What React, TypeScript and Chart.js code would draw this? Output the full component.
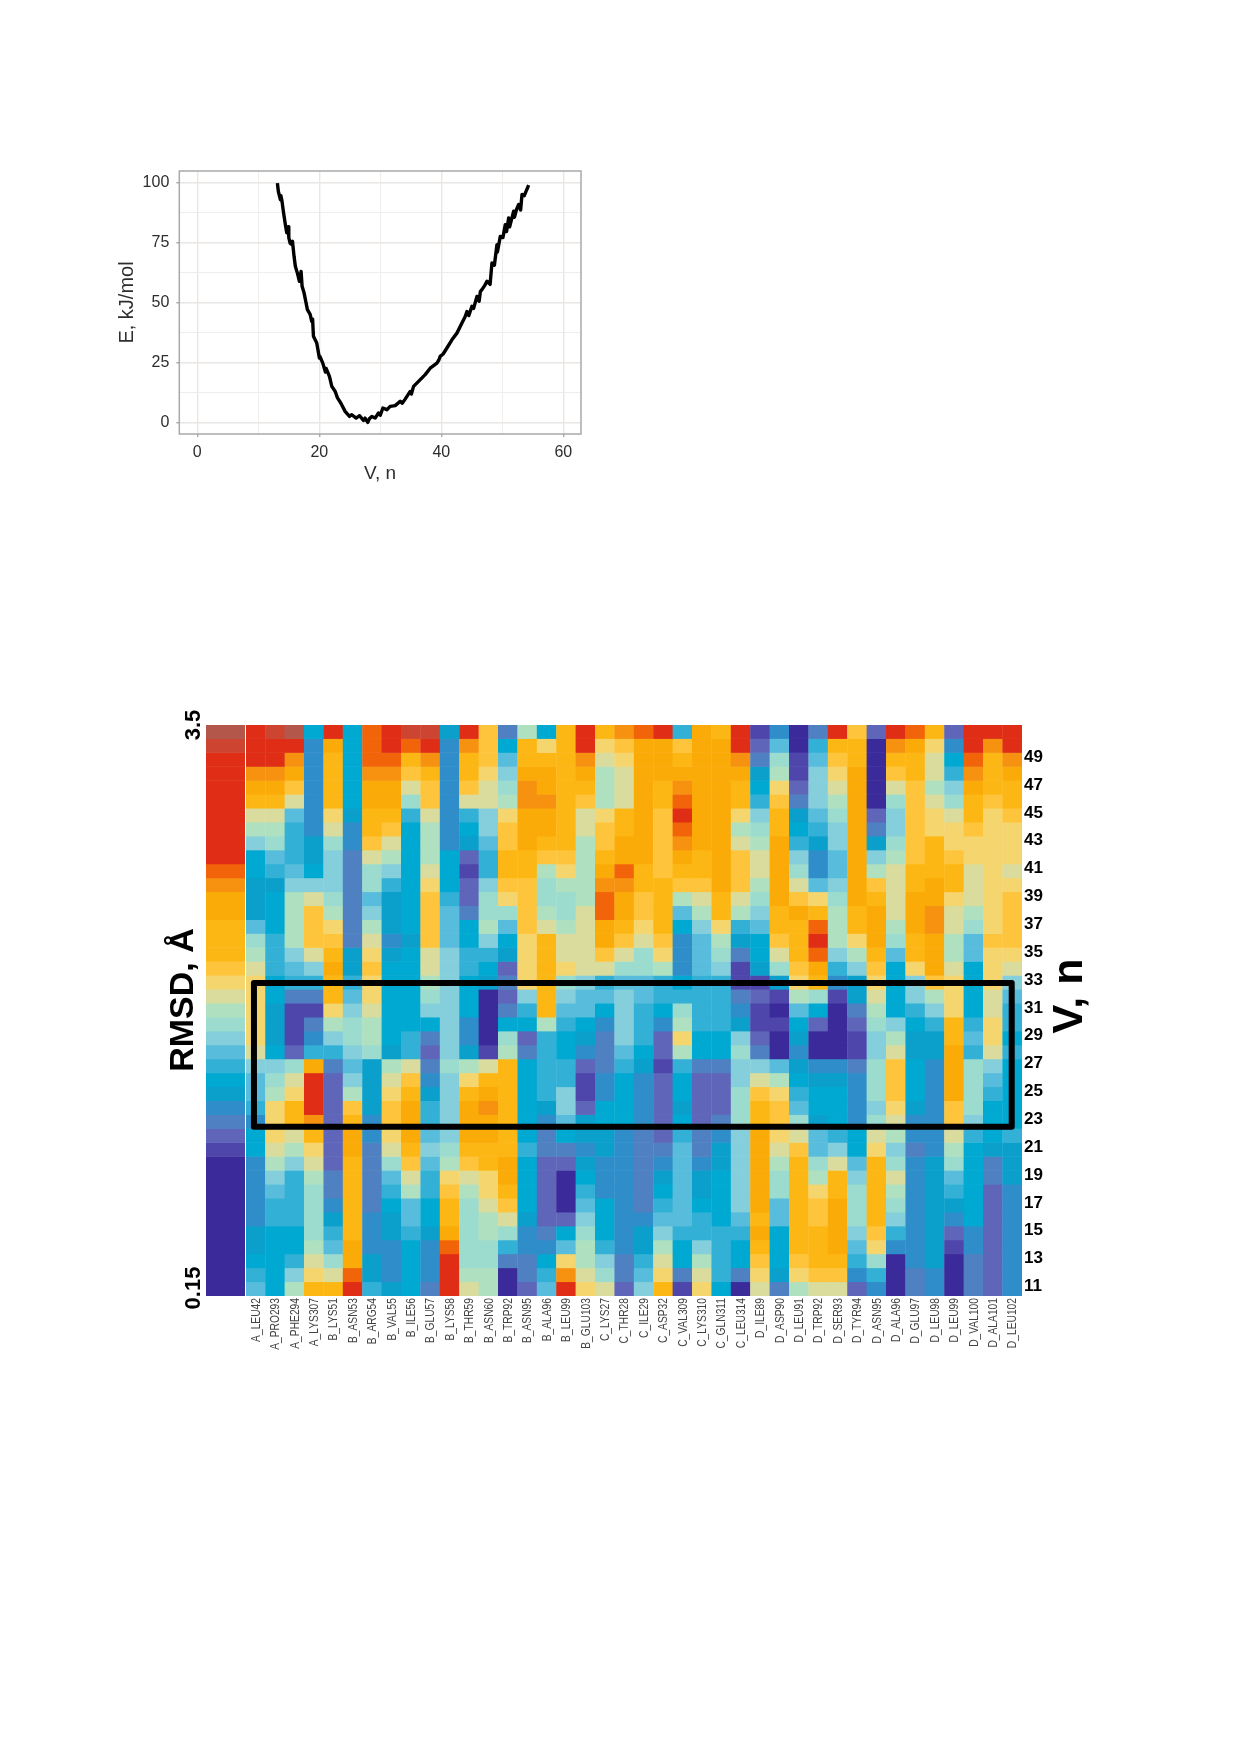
import React, { useEffect, useRef } from "react";
import { Chart, registerables } from "chart.js";

Chart.register(...registerables);

// ---------- Top panel: energy profile ----------
const energyV = [13.13,13.29,13.62,13.7,13.89,14.11,14.44,14.66,14.93,15.0,15.21,15.54,15.6,15.86,16.08,16.41,16.74,16.85,17.01,17.18,17.51,18.05,18.5,18.76,18.9,19.04,19.58,20.02,20.1,20.57,21.0,21.12,21.66,22.05,22.59,22.98,23.52,24.23,24.95,25.33,26.04,26.59,27.24,27.5,27.95,28.2,28.61,29.16,29.7,30.0,30.42,31.07,31.62,32.44,33.26,33.6,34.08,34.9,35.1,35.45,36.27,37.36,38.18,39.28,39.6,39.82,40.3,40.92,41.74,42.56,43.38,43.9,44.2,44.5,45.02,45.3,45.84,46.2,46.4,46.66,47.1,47.48,48.0,48.3,48.7,49.12,49.2,49.67,50.1,50.49,50.7,51.04,51.2,51.86,52.0,52.3,52.68,53.0,53.23,53.6,54.32];
const energyE = [99.7,96.2,92.8,94.5,92.1,87.9,82.4,79,81.5,77,74.7,74,75.5,69.2,65,62.2,58.8,60,62.9,56.7,53.9,47,45,42.1,43,35.9,33.1,26.8,27.5,24.7,21,22.5,19.2,15,13,10.2,8.1,4.6,2.5,3.2,1.8,2.8,0.8,1.8,0,1.5,2.5,1.8,3.9,3,6,5.3,6.7,7,8.8,8,9.7,12.9,11.8,15,17.1,19.9,22.6,24.7,26,27.5,28.5,31,34.4,37.2,41.4,44,46.2,44.5,48.4,47.5,52.5,50.5,54.5,55.3,57,58.8,57.5,66.4,65.5,74,71,77.5,77,82.4,79.5,85.2,81.5,88,85.5,88.5,90.8,88.5,95,94.5,98.9];

// ---------- Lower panel: RMSD heat map ----------
const residues = ["A_LEU42","A_PRO293","A_PHE294","A_LYS307","B_LYS51","B_ASN53","B_ARG54","B_VAL55","B_ILE56","B_GLU57","B_LYS58","B_THR59","B_ASN60","B_TRP92","B_ASN95","B_ALA96","B_LEU99","B_GLU103","C_LYS27","C_THR28","C_ILE29","C_ASP32","C_VAL309","C_LYS310","C_GLN311","C_LEU314","D_ILE89","D_ASP90","D_LEU91","D_TRP92","D_SER93","D_TYR94","D_ASN95","D_ALA96","D_GLU97","D_LEU98","D_LEU99","D_VAL100","D_ALA101","D_LEU102"];
const vRows = [51,50,49,48,47,46,45,44,43,42,41,40,39,38,37,36,35,34,33,32,31,30,29,28,27,26,25,24,23,22,21,20,19,18,17,16,15,14,13,12,11];
const vTicks = [11,13,15,17,19,21,23,25,27,29,31,33,35,37,39,41,43,45,47,49];

const colorBins = ["#3b2a9a","#4e46ab","#5f66b9","#4f80c1","#2f8ec9","#0b9fcc","#00a9d1","#33b0d6","#58bcdc","#84cfdb","#9cdccf","#afe0bf","#d9dc9c","#f5d56e","#fec53c","#fdb714","#fbab08","#f79211","#f26409","#e02d16","#cd4430","#b2574a"];

// RMSD colour-bin of every row (V = 51 ... 11) for each residue
const rmsdBar = [21,20,19,19,19,19,19,19,19,19,18,17,16,16,15,15,15,14,13,12,11,10,9,8,7,6,5,4,3,2,1,0,0,0,0,0,0,0,0,0,0];
const col00 = [19,19,19,17,16,15,12,11,9,6,6,5,5,5,8,10,11,12,13,13,13,13,13,12,9,8,8,7,4,6,6,4,4,4,4,4,5,5,6,7,8];
const col01 = [20,19,19,17,16,15,12,11,10,8,7,5,6,6,6,7,7,7,6,6,5,5,5,6,9,10,11,13,13,13,12,11,9,8,7,7,6,6,6,6,6];
const col02 = [21,19,17,16,14,12,8,7,7,7,8,9,11,11,11,11,9,8,7,3,1,1,1,2,10,12,13,15,15,12,11,9,7,7,7,7,6,6,7,9,11];
const col03 = [6,4,4,4,4,4,4,4,5,5,6,9,12,14,14,14,12,9,7,3,1,3,4,7,16,19,19,19,17,15,13,12,11,10,10,10,10,11,12,13,15];
const col04 = [19,16,15,15,15,15,13,12,10,9,9,9,10,11,13,14,15,16,15,15,13,11,9,7,3,2,2,2,2,2,2,2,3,3,4,5,7,8,10,12,15];
const col05 = [6,6,6,6,6,6,5,4,4,3,3,3,3,3,3,3,5,5,7,8,9,10,10,9,8,9,11,14,15,16,16,15,15,15,15,15,15,16,16,18,19];
const col06 = [18,18,18,17,16,16,15,15,14,12,10,10,8,9,11,12,13,14,13,13,12,11,11,10,5,5,5,5,4,4,3,3,3,3,3,4,4,4,5,5,7];
const col07 = [19,19,18,17,16,16,15,14,12,11,9,7,5,5,5,4,5,6,6,6,6,6,6,5,11,12,13,14,14,13,12,10,8,7,6,5,5,4,4,4,5];
const col08 = [20,18,15,14,12,10,7,6,6,6,6,6,6,6,6,5,6,6,6,6,6,6,7,7,12,14,15,16,16,16,15,14,12,11,8,8,7,6,6,6,6];
const col09 = [20,19,17,15,14,14,12,11,11,11,12,13,14,14,14,14,12,12,11,10,9,6,3,2,3,4,5,7,7,8,9,8,7,7,6,6,5,4,4,4,3];
const col10 = [5,4,4,4,4,4,4,4,4,6,6,6,7,8,8,8,9,9,9,9,9,9,9,9,10,9,9,9,9,9,10,11,13,14,15,15,16,18,19,19,19];
const col11 = [19,17,15,15,14,12,7,6,5,2,1,2,2,3,6,6,7,7,6,6,6,4,4,5,11,13,15,16,16,16,15,14,12,11,10,10,10,10,10,11,12];
const col12 = [14,14,14,13,12,12,9,9,8,7,7,9,10,10,11,9,7,6,5,0,0,0,0,1,12,15,16,17,16,16,15,15,13,13,12,11,11,10,10,11,11];
const col13 = [3,6,8,9,10,11,13,14,14,15,15,14,13,10,8,6,5,2,3,2,3,6,10,11,15,15,15,15,15,15,15,16,16,15,14,12,10,7,3,0,0];
const col14 = [11,15,15,16,17,17,16,16,16,15,15,14,14,14,14,13,13,13,13,9,7,6,2,3,6,6,6,6,6,6,7,6,6,6,6,5,4,4,3,3,2];
const col15 = [6,13,15,16,16,17,16,16,15,14,11,10,10,11,12,15,15,15,15,15,15,11,7,7,7,7,7,5,4,3,3,2,2,2,2,2,3,4,6,7,8];
const col16 = [15,15,15,15,15,15,15,15,15,14,13,11,10,10,11,12,12,13,10,9,8,7,6,6,7,7,9,9,8,6,3,2,0,0,0,2,6,8,13,17,19];
const col17 = [19,19,17,16,15,14,12,12,11,11,11,11,11,12,12,12,12,12,9,8,8,6,5,4,2,1,1,2,5,5,4,5,6,7,8,9,10,11,11,12,13];
const col18 = [15,13,12,11,11,11,13,14,14,15,16,17,18,18,16,16,14,12,7,8,6,4,3,3,3,4,4,6,6,5,5,4,4,4,6,6,6,7,9,10,12];
const col19 = [17,14,13,12,12,12,15,15,16,16,18,17,16,16,15,14,12,10,8,9,9,9,9,8,7,6,6,6,6,4,4,4,4,4,4,4,4,4,3,3,2];
const col20 = [18,16,16,16,16,16,16,16,16,16,15,15,14,14,13,12,10,10,8,8,7,7,7,6,5,4,4,4,4,3,3,3,3,3,3,4,5,5,7,8,9];
const col21 = [19,16,16,16,15,15,14,14,14,14,14,15,15,15,15,14,13,11,7,7,6,4,2,2,1,2,2,2,2,2,3,4,5,6,7,8,9,11,12,13,15];
const col22 = [7,14,15,16,17,18,19,18,17,16,15,14,11,8,6,4,4,4,6,7,10,11,13,11,7,6,6,5,6,7,8,8,8,8,8,8,7,6,6,3,1];
const col23 = [16,16,16,16,16,16,16,16,16,15,15,14,12,11,9,8,8,8,7,7,7,7,6,6,3,2,2,2,2,3,3,4,5,5,6,7,7,9,11,12,13];
const col24 = [15,16,16,16,16,16,16,16,16,16,16,16,15,15,13,11,10,9,7,7,7,7,6,6,3,2,2,2,3,4,5,5,6,6,6,6,7,7,7,7,6];
const col25 = [19,19,17,16,15,15,13,11,12,14,14,14,12,11,7,5,3,1,1,3,4,5,9,10,9,9,10,10,10,9,9,9,9,9,9,8,7,6,6,3,0];
const col26 = [1,2,3,5,6,7,9,10,11,12,12,11,10,9,8,6,6,5,1,2,1,1,2,3,9,12,14,15,15,16,16,16,16,16,16,15,16,15,14,13,12];
const col27 = [4,8,10,11,13,14,15,15,16,16,16,16,16,15,15,14,12,10,5,1,0,1,0,0,8,11,13,14,14,13,12,11,10,10,8,8,6,6,6,5,3];
const col28 = [0,0,1,1,2,3,5,6,7,9,10,12,14,16,15,15,15,14,13,11,8,6,5,4,5,6,7,8,10,12,14,15,15,15,15,15,15,15,14,13,11];
const col29 = [3,7,8,9,9,9,8,7,5,4,4,8,13,15,18,19,18,16,15,10,6,2,0,0,4,5,6,6,5,8,8,10,11,13,14,14,15,15,15,14,12];
const col30 = [19,15,14,13,12,11,10,9,9,8,8,9,10,11,11,11,9,7,4,1,0,0,0,0,4,5,6,6,6,7,9,12,15,15,16,16,16,16,15,14,12];
const col31 = [14,15,15,16,16,16,16,16,16,16,16,16,16,15,15,13,11,9,5,5,3,2,1,1,3,4,4,4,4,6,6,8,9,10,10,10,9,8,7,4,2];
const col32 = [2,0,0,0,0,0,2,3,5,9,11,14,15,16,16,16,15,14,13,12,11,10,9,9,10,10,10,9,10,12,13,15,15,15,15,15,14,13,10,7,4];
const col33 = [19,17,15,14,12,10,9,9,10,11,12,12,12,12,11,10,8,6,6,6,6,9,11,12,14,14,14,13,12,11,9,10,12,11,10,9,7,4,0,0,0];
const col34 = [18,16,15,15,14,14,14,14,14,14,15,15,16,16,16,15,15,13,9,9,7,6,5,5,6,6,6,5,4,4,3,4,4,4,4,4,4,4,4,3,3];
const col35 = [15,13,12,12,11,12,13,13,15,15,15,16,16,17,17,16,16,16,14,11,9,7,5,5,4,4,4,4,4,4,4,5,5,5,5,5,5,5,5,4,4];
const col36 = [2,4,6,7,9,10,12,13,13,14,15,15,13,12,12,11,11,12,13,13,13,15,15,16,16,16,16,14,14,12,11,10,8,7,5,4,2,1,0,0,0];
const col37 = [19,19,18,17,16,15,15,14,13,13,12,12,12,11,10,8,8,6,6,6,6,7,8,7,10,10,10,10,9,7,6,6,6,6,6,6,4,4,3,3,3];
const col38 = [19,17,15,15,15,14,13,13,13,13,13,13,13,13,13,14,13,13,13,12,12,13,13,12,9,8,7,6,6,6,5,3,3,2,2,2,2,2,2,2,2];
const col39 = [19,19,17,16,15,15,14,13,13,13,12,13,14,14,14,14,13,12,9,8,7,7,6,7,6,6,6,6,6,7,5,5,5,4,4,4,4,4,4,4,4];
const residueColumns = [col00,col01,col02,col03,col04,col05,col06,col07,col08,col09,col10,col11,col12,col13,col14,col15,col16,col17,col18,col19,col20,col21,col22,col23,col24,col25,col26,col27,col28,col29,col30,col31,col32,col33,col34,col35,col36,col37,col38,col39];

// highlighted window, in residue index / V units
const windowX = [-0.09, 38.97];
const windowV = [22.66, 32.98];

const SANS = "'Liberation Sans', Arial, sans-serif";

const rotatedText = (items: { text: string; x: number; y: number; font: string; align?: CanvasTextAlign }[]) => ({
  id: "rotatedText",
  afterDraw(chart: any) {
    const { ctx } = chart;
    items.forEach((it) => {
      ctx.save();
      ctx.translate(it.x, it.y);
      ctx.rotate(-Math.PI / 2);
      ctx.font = it.font;
      ctx.fillStyle = "#000";
      ctx.textAlign = it.align || "center";
      ctx.textBaseline = "alphabetic";
      ctx.fillText(it.text, 0, 0);
      ctx.restore();
    });
  },
});

function Panel({ left, top, width, height, build }: any) {
  const ref = useRef<HTMLCanvasElement>(null);
  useEffect(() => {
    const chart = new Chart(ref.current as HTMLCanvasElement, build());
    return () => chart.destroy();
  }, []);
  return <canvas ref={ref} width={width} height={height} style={{ position: "absolute", left, top, width, height, filter: "blur(0.5px)" }} />;
}

const noPadding = (a: any) => { a.paddingTop = 0; a.paddingBottom = 0; a.paddingLeft = 0; a.paddingRight = 0; };

const lineConfig = () => ({
  type: "line",
  data: {
    datasets: [
      {
        data: energyV.map((v, i) => ({ x: v, y: energyE[i] })),
        borderColor: "#000",
        borderWidth: 3.4,
        pointRadius: 0,
        tension: 0,
        borderJoinStyle: "round",
      },
    ],
  },
  options: {
    animation: false,
    responsive: false,
    maintainAspectRatio: false,
    layout: { padding: { top: 21, right: 19, left: 0, bottom: 15 } },
    plugins: { legend: { display: false }, tooltip: { enabled: false } },
    scales: {
      x: {
        type: "linear",
        min: -2.95,
        max: 62.9,
        afterFit: (a: any) => { a.height = 51; noPadding(a); },
        afterBuildTicks: (a: any) => { a.ticks = [0,10,20,30,40,50,60].map((value) => ({ value })); },
        ticks: {
          autoSkip: false, maxRotation: 0, padding: 6,
          color: "#2e2e2e",
          font: { family: SANS, size: 16 },
          callback: (v: number) => (v % 20 === 0 ? String(v) : ""),
        },
        grid: {
          color: (c: any) => (c.tick && c.tick.value % 20 === 0 ? "#e9e6e4" : "#f0eeed"),
          lineWidth: (c: any) => (c.tick && c.tick.value % 20 === 0 ? 1.4 : 1),
          tickColor: (c: any) => (c.tick && c.tick.value % 20 === 0 ? "#aaa" : "rgba(0,0,0,0)"),
          tickLength: 3,
        },
        border: { display: false },
        title: { display: true, text: "V, n", color: "#2e2e2e", font: { family: SANS, size: 19 }, padding: { top: 0, bottom: 0 } },
      },
      y: {
        min: -4.83,
        max: 104.75,
        afterFit: (a: any) => { a.width = 79.3; noPadding(a); },
        afterBuildTicks: (a: any) => { a.ticks = [0,12.5,25,37.5,50,62.5,75,87.5,100].map((value) => ({ value })); },
        ticks: {
          autoSkip: false, padding: 7,
          color: "#2e2e2e",
          font: { family: SANS, size: 16 },
          callback: (v: number) => (v % 25 === 0 ? String(v) : ""),
        },
        grid: {
          color: (c: any) => (c.tick && c.tick.value % 25 === 0 ? "#e9e6e4" : "#f0eeed"),
          lineWidth: (c: any) => (c.tick && c.tick.value % 25 === 0 ? 1.4 : 1),
          tickColor: (c: any) => (c.tick && c.tick.value % 25 === 0 ? "#aaa" : "rgba(0,0,0,0)"),
          tickLength: 3,
        },
        border: { display: false },
        title: { display: true, text: "E, kJ/mol", color: "#2e2e2e", font: { family: SANS, size: 20 }, padding: { top: 15, bottom: 0 } },
      },
    },
  },
  plugins: [
    {
      id: "frame",
      afterDatasetsDraw(chart: any) {
        const { ctx, chartArea: a } = chart;
        ctx.save();
        ctx.strokeStyle = "#a9a9a9";
        ctx.lineWidth = 1.5;
        ctx.strokeRect(a.left, a.top, a.right - a.left, a.bottom - a.top);
        ctx.restore();
      },
    },
  ],
});

const barRowDatasets = (columns: number[][], yLabels: number[]) =>
  yLabels.map((v, r) => ({
    data: columns.map(() => [v - 0.5, v + 0.54]),
    backgroundColor: columns.map((c) => colorBins[c[r]]),
    borderWidth: 0,
    grouped: false,
    barPercentage: 1.02,
    categoryPercentage: 1,
    yAxisID: "y",
  }));

const legendConfig = () => ({
  type: "bar",
  data: { labels: ["RMSD"], datasets: barRowDatasets([rmsdBar], vRows) },
  options: {
    animation: false,
    responsive: false,
    maintainAspectRatio: false,
    layout: { padding: { left: 60, right: 0, top: 25, bottom: 15 } },
    plugins: { legend: { display: false }, tooltip: { enabled: false } },
    scales: {
      x: { display: false },
      y: { display: false, min: 10.5, max: 51.5 },
    },
  },
  plugins: [
    rotatedText([
      { text: "3.5", x: 54, y: 25, font: `bold 22px ${SANS}` },
      { text: "0.15", x: 54, y: 588, font: `bold 22px ${SANS}` },
      { text: "RMSD, Å", x: 47, y: 300, font: `bold 34px ${SANS}` },
    ]),
  ],
});

const heatConfig = () => ({
  type: "bar",
  data: { labels: residues, datasets: barRowDatasets(residueColumns, vRows) },
  options: {
    animation: false,
    responsive: false,
    maintainAspectRatio: false,
    layout: { padding: 0 },
    plugins: { legend: { display: false }, tooltip: { enabled: false } },
    scales: {
      x: {
        afterFit: (a: any) => { a.height = 75; noPadding(a); },
        grid: { display: false, drawTicks: false },
        border: { display: false },
        ticks: { display: false },
      },
      y: { display: false, min: 10.5, max: 51.5 },
      y2: {
        position: "right",
        min: 10.31,
        max: 51.31,
        afterFit: (a: any) => { a.width = 94; noPadding(a); },
        afterBuildTicks: (a: any) => { a.ticks = vTicks.map((value) => ({ value })); },
        grid: { display: false, drawTicks: false },
        border: { display: false },
        ticks: {
          autoSkip: false, padding: 2,
          color: "#000",
          font: { family: SANS, size: 17, weight: "bold" },
        },
      },
    },
  },
  plugins: [
    {
      id: "windowBox",
      afterDatasetsDraw(chart: any) {
        const { ctx, scales } = chart;
        const l = scales.x.getPixelForValue(windowX[0]);
        const r = scales.x.getPixelForValue(windowX[1]);
        const b = scales.y.getPixelForValue(windowV[0]);
        const t = scales.y.getPixelForValue(windowV[1]);
        ctx.save();
        ctx.strokeStyle = "#000";
        ctx.lineWidth = 6;
        ctx.lineJoin = "round";
        ctx.strokeRect(l, t, r - l, b - t);
        ctx.restore();
      },
    },
    {
      // narrow residue labels, placed on the category axis
      id: "residueLabels",
      afterDraw(chart: any) {
        const { ctx, scales } = chart;
        residues.forEach((name, i) => {
          ctx.save();
          ctx.translate(scales.x.getPixelForValue(i) + 4, scales.y.bottom + 2);
          ctx.rotate(-Math.PI / 2);
          ctx.scale(0.82, 1);
          ctx.font = `12.5px ${SANS}`;
          ctx.fillStyle = "#444";
          ctx.textAlign = "right";
          ctx.textBaseline = "alphabetic";
          ctx.fillText(name, 0, 0);
          ctx.restore();
        });
      },
    },
    rotatedText([{ text: "V, n", x: 836, y: 271, font: `bold 43px ${SANS}` }]),
  ],
});

export default function App() {
  return (
    <div style={{ position: "absolute", left: 0, top: 0, width: 1240, height: 1754, background: "#fff", overflow: "hidden" }}>
      <Panel left={100} top={150} width={500} height={350} build={lineConfig} />
      <Panel left={146} top={700} width={99} height={611} build={legendConfig} />
      <Panel left={246} top={725} width={870} height={646} build={heatConfig} />
    </div>
  );
}
